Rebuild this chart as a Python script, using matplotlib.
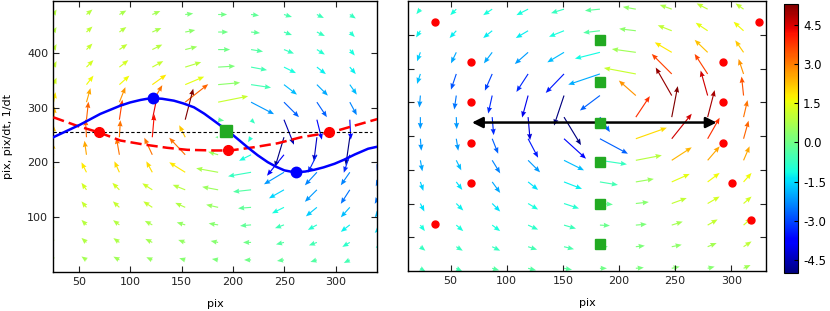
import matplotlib
matplotlib.use('Agg')
import matplotlib.pyplot as plt
import numpy as np

plt.rcParams['font.family'] = ['DejaVu Sans']
plt.rcParams['font.size'] = 8

# ---- left panel: quiver grid (tail positions) and vectors ----
grid_x_l = [25.5, 57.5, 89.5, 121.5, 153.5, 185.5, 217.5, 249.5, 281.5, 313.5, 345.5]
grid_y_l = [470, 438, 406, 374, 342, 310, 278, 246, 214, 182, 150, 118, 86, 54, 22]

u_left = [
    [3, 6, 7, 8, 8, 9, 8, 8, 7, 6, 5],
    [3, 6, 7, 9, 10, 10, 9, 8, 8, 5, 5],
    [3, 6, 8, 10, 12, 12, 12, 10, 8, 5, 5],
    [3, 7, 9, 11, 16, 17, 16, 12, 9, 6, 5],
    [3, 7, 10, 14, 19, 22, 20, 13, 11, 7, 5],
    [2, 4, 6, 10, 23, 30, 23, 15, 10, 7, 4],
    [1, 2, 3, 5, 8, 6, 4, 10, 5, 1, -1],
    [0, -1, 1, 2, -6, -3, -3, -9, -3, -4, -4],
    [-1, -2, -3, -8, -16, -10, -12, -17, -9, -6, -6],
    [-3, -5, -5, -6, -16, -22, -23, -20, -12, -9, -7],
    [-5, -5, -7, -10, -12.5, -16, -18, -15, -12, -9, -8],
    [-5, -5, -6.5, -9, -10, -12, -13, -12, -11, -9, -8],
    [-5, -5, -6.3, -7.5, -8.5, -9.5, -11, -9, -9, -9, -8],
    [-5, -5, -6, -7, -7, -7.5, -8, -8, -8, -7.5, -7],
    [-5, -5, -6, -6, -6, -6.3, -7, -7, -6.5, -6, -6],
]
v_left = [
    [5, 5, 4, 3.5, 1, 0, -1, -2.5, -3.5, -4, -4.5],
    [5, 5.5, 5, 4, 2, 0, -1, -3, -4, -5, -5],
    [5.5, 6, 5.5, 5, 3, 0, -2, -4, -5, -6, -6],
    [6, 7, 7, 6, 5, 1, -3, -6, -7, -7, -7],
    [7, 9, 9, 10, 8, 2, -3, -10, -11, -10, -9],
    [10, 14, 15, 17, 18, 6, -12, -15, -15, -13, -11],
    [13, 18, 20, 24, 31, -1, -4, -25, -20, -20, -14],
    [12, 18, 17, 23, 12, 0, -5, -30, -24, -28, -18],
    [12, 14, 17, 17, 17, 3, -6, -21, -18, -18, -16],
    [10, 10, 11, 11, 10, 4, -4, -12, -13, -13, -14],
    [8, 7, 7, 6.5, 5, 3, -2, -8.5, -12, -14, -14],
    [7, 6, 6, 6, 4.5, 2.7, -1, -6, -9, -10, -10],
    [6, 5, 4.7, 4, 2.5, 1.5, -1, -3.3, -5, -7, -8],
    [5, 4.5, 4.3, 3.5, 2.5, 1.5, 0, -2, -3, -4.5, -5.5],
    [4, 3.5, 3.3, 2.7, 1.7, 1, 0, -1, -2, -3, -4],
]

# curves on the left panel
blue_x = [25.3, 51.4, 70.9, 90.4, 100, 110, 116, 123.6, 131, 142.5, 152, 162,
          172, 181.5, 196, 205, 214, 224, 233.7, 242, 249.9, 256, 263, 270,
          279.2, 288, 298.7, 308, 318.3, 331.3, 341]
blue_y = [246, 269, 288.5, 303.6, 309.5, 314, 316, 317, 316.2, 312.7, 307.5, 300.6,
          289, 276, 256, 242, 227.8, 213, 200.5, 192, 185.5, 183.3, 182.4, 183.3,
          186.7, 191, 197.6, 205, 214.5, 225, 229]
red_x = [25.3, 48.1, 70.9, 90.4, 113.2, 136, 155.6, 181.5, 197.2, 220.6,
         243.5, 266.2, 295.5, 318.3, 341]
red_y = [282.4, 267, 254, 240, 232.7, 226.7, 223, 221.8, 221.8, 227.8,
         235, 246, 255, 267.3, 279.5]
level_x = [25, 335]
level_y = [255, 255]

blue_pts_x = [122, 261]
blue_pts_y = [317, 182]
red_pts_x = [70, 195, 293]
red_pts_y = [255, 222, 255]
sq_x = [193]
sq_y = [258]

# ---- right panel ----
grid_x_r = [23, 55, 87, 119, 151, 183, 215, 247, 279, 311]
grid_y_r = [388, 356, 324, 292, 260, 228, 196, 164, 132, 100, 68, 36, 4]

u_right = [
    [-4, -6, -9, -11.7, -13, -15, -13, -12, -11, -8],
    [-4.3, -6.7, -9, -12.3, -15, -16.7, -16.7, -14, -12, -10],
    [-3.3, -5.3, -8.3, -13.3, -16.7, -25, -24, -17, -13, -8.3],
    [-3.3, -5.3, -7.3, -11.7, -18.3, -31.7, -32, -20, -13, -5],
    [-1, -2, -4, -6, -10, -20, -17, -16, -7, -2],
    [0, 0.5, 1.5, 2, 17, 10, 14, 6, 7, 4],
    [1, 2, 6, 10, 22, 28, 31, 20, 12, 5],
    [2, 5, 8, 12, 20, 27, 26, 20, 12, 6],
    [3, 6, 8, 10, 18, 18, 18, 18, 12, 8],
    [4, 7, 8, 10, 15, 13, 13, 15, 12, 8],
    [4.5, 7, 8, 10, 12, 10, 11, 11, 10, 8],
    [5, 6.5, 8, 9, 10, 8, 9, 10, 9, 8],
    [5, 6, 7, 8, 8, 7, 8, 8, 7, 7],
]
v_right = [
    [-5, -6, -6, -6, -4, -1.5, 2.3, 4.3, 5.7, 5.7],
    [-6.7, -7.3, -7.3, -7.3, -6, -2, 2, 5.5, 8, 9],
    [-9, -11, -11, -11.7, -10, -6.3, 3.3, 10, 12.5, 12],
    [-10, -15.7, -16.7, -18, -19, -10.7, 6, 20, 20, 15],
    [-12, -14, -18, -22, -30, -15, 15, 28, 25, 19],
    [-12, -12, -18, -23, -28, -15, 21, 31, 27, 17],
    [-12, -12, -15, -19, -20, -15, 11, 25, 21, 18],
    [-11, -10, -13, -12, -10, -4, 5, 13, 14, 14],
    [-9, -8, -11, -8, -7, -3, 3, 8, 9, 9],
    [-8, -7, -8, -6, -5, -1, 1.5, 5.5, 7, 7],
    [-6, -6, -6, -4.5, -3.5, -0.5, 1, 3.5, 5.7, 7],
    [-4, -4, -4, -3, -2.5, 0, 1, 2, 3.7, 5.3],
    [-3, -3, -2, -2, -1.5, 0, 0.7, 1.7, 1.7, 3.3],
]

r_red_x = [36, 68, 68, 68, 68, 36, 325, 293, 293, 293, 301, 318]
r_red_y = [369, 310, 250, 190, 130, 70, 369, 310, 250, 190, 130, 75]
r_sq_x = [183, 183, 183, 183, 183, 183]
r_sq_y = [342, 280, 220, 161, 99, 40]
span_x = [69, 287]
span_y = 220

cbar_ticks = [-4.5, -3.0, -1.5, 0.0, 1.5, 3.0, 4.5]
px_per_unit = 5.5

fig = plt.figure(figsize=(8.3, 3.11), dpi=100)
ax1 = fig.add_axes([0.0639, 0.1254, 0.3904, 0.872])
ax2 = fig.add_axes([0.4916, 0.1286, 0.4313, 0.868])
cax = fig.add_axes([0.9446, 0.122, 0.0169, 0.865])

qkw = dict(cmap='jet', angles='uv', scale_units='dots', scale=1, pivot='tail',
           headwidth=4.5, headlength=5.5, headaxislength=5, zorder=1)

X, Y = np.meshgrid(grid_x_l, grid_y_l)
U = np.array(u_left, dtype=float)
V = np.array(v_left, dtype=float)
q1 = ax1.quiver(X, Y, U, V, V / px_per_unit, width=0.0035, **qkw)
q1.set_clim(-5.0, 5.3)

ax1.plot(level_x, level_y, color='k', lw=0.8, dashes=(3, 2), zorder=2)
ax1.plot(red_x, red_y, color='r', lw=1.8, dashes=(4.5, 2), zorder=3)
ax1.plot(blue_x, blue_y, color='b', lw=1.8, zorder=3)
ax1.plot(red_pts_x, red_pts_y, 'o', color='r', mec='r', ms=7, zorder=4)
ax1.plot(blue_pts_x, blue_pts_y, 'o', color='b', mec='b', ms=7.5, zorder=4)
ax1.plot(sq_x, sq_y, 's', color='#22aa22', mec='#22aa22', ms=8.5, zorder=4)

ax1.set_xlim(25, 340)
ax1.set_ylim(0, 495)
ax1.set_xticks([50, 100, 150, 200, 250, 300])
ax1.set_yticks([100, 200, 300, 400])
ax1.set_xlabel('pix', labelpad=9)
ax1.set_ylabel('pix, pix/dt, 1/dt', labelpad=10)

X2, Y2 = np.meshgrid(grid_x_r, grid_y_r)
U2 = np.array(u_right, dtype=float)
V2 = np.array(v_right, dtype=float)
q2 = ax2.quiver(X2, Y2, U2, V2, V2 / px_per_unit, width=0.0032, **qkw)
q2.set_clim(-5.0, 5.3)

ax2.annotate('', xy=(span_x[0], span_y), xytext=(span_x[1], span_y),
             arrowprops=dict(arrowstyle='<|-|>', color='k', lw=1.8,
                             mutation_scale=16, shrinkA=0, shrinkB=0), zorder=5)
ax2.plot(r_red_x, r_red_y, 'o', color='r', mec='r', ms=5, zorder=4)
ax2.plot(r_sq_x, r_sq_y, 's', color='#22aa22', mec='#22aa22', ms=7, zorder=6)

ax2.set_xlim(12, 331)
ax2.set_ylim(0, 400)
ax2.set_xticks([50, 100, 150, 200, 250, 300])
ax2.set_yticks([50, 100, 150, 200, 250, 300, 350])
ax2.set_xlabel('pix', labelpad=9)

for ax in (ax1, ax2):
    ax.tick_params(direction='in', top=True, right=True, length=4, width=0.8,
                   labelsize=8, colors='#222222')
    for s in ax.spines.values():
        s.set_linewidth(1.0)
ax2.tick_params(labelleft=False)

cb = fig.colorbar(q2, cax=cax, ticks=cbar_ticks, format='%.1f')
cb.ax.tick_params(direction='in', length=3, labelsize=8.5)
cb.outline.set_linewidth(0.8)

fig.savefig('out.png', dpi=100)
